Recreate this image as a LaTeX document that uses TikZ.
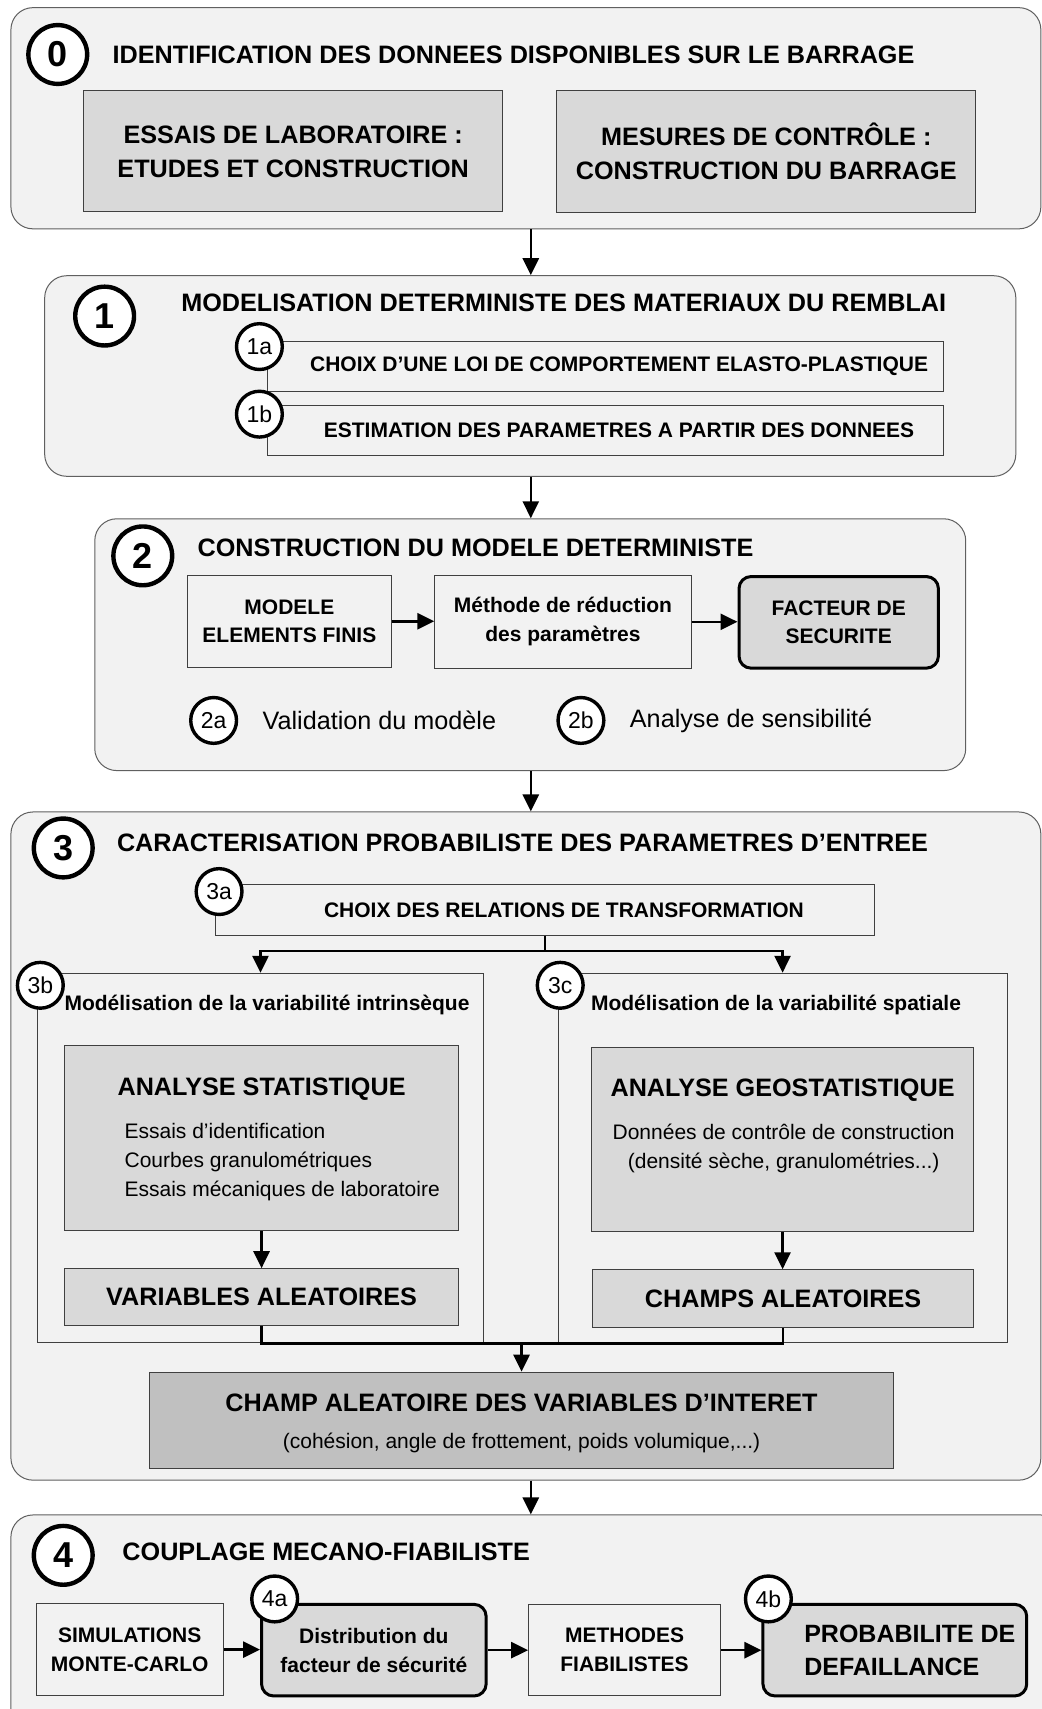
\documentclass[tikz,border=0pt]{standalone}
\usepackage{fontspec}
\setmainfont{Liberation Sans}
\usepackage{tikz}
\usetikzlibrary{
  arrows.meta,
  positioning,
  calc
}
\definecolor{panelcolor}{RGB}{242, 242, 242}
\definecolor{paneldraw}{RGB}{96, 96, 96}
\definecolor{greycolor}{RGB}{217, 217, 217}
\definecolor{darkcolor}{RGB}{192, 192, 192}
\definecolor{boxdraw}{RGB}{64, 64, 64}
\tikzset{
titletext/.style={
  font=\fontsize{12.6}{16.9}\selectfont\bfseries
},
smalltext/.style={
  font=\fontsize{10.5}{14.4}\selectfont\bfseries
},
plaintext/.style={
  font=\fontsize{10.5}{14.4}\selectfont
},
panel/.style={
  draw=paneldraw,
  line width=0.5pt,
  fill=panelcolor,
  rounded corners=11pt,
  inner sep=0pt
},
plainbox/.style={
  draw=boxdraw,
  line width=0.5pt,
  fill=panelcolor,
  inner sep=0pt,
  align=center
},
greybox/.style={
  draw=boxdraw,
  line width=0.5pt,
  fill=greycolor,
  inner sep=0pt,
  align=center
},
darkbox/.style={
  draw=boxdraw,
  line width=0.5pt,
  fill=darkcolor,
  inner sep=0pt
},
resultbox/.style={
  draw=black,
  line width=1.5pt,
  fill=greycolor,
  rounded corners=6pt,
  inner sep=0pt,
  align=center
},
arrow/.style={
  -{Triangle[length=8.5pt,width=8pt]},
  line width=1.3pt,
  draw=black
},
link/.style={
  line width=1.3pt,
  draw=black
}
}

\begin{document}
\begin{tikzpicture}[
    x=0.545pt, y=-0.545pt,
    % cercles des etapes
    stepcircle/.style={
        circle,
        draw=black,
        line width=2.2pt,
        fill=white,
        minimum size=29.4pt,
        inner sep=0pt,
        font=\fontsize{18}{18}\selectfont\bfseries
    },
    substepcircle/.style={
        circle,
        draw=black,
        line width=1.7pt,
        fill=white,
        minimum size=22.9pt,
        inner sep=0pt,
        font=\fontsize{11.5}{11.5}\selectfont
    },
    steptitle/.style={titletext, anchor=west, inner sep=0pt},
    note/.style={font=\fontsize{12.6}{15}\selectfont, inner sep=0pt},
    boxlabel/.style={smalltext, inner sep=0pt}
]
\path[fill=white, use as bounding box] (0,0) rectangle (956,1568);
\coordinate (flow) at (487,0);

% ============================================================================
% Etape 0
% ============================================================================
\node[panel, minimum width=515pt, minimum height=110.6pt] (p0) at (482.5,108.5) {};
\node[stepcircle] (n0) at (53,50) {0};
\node[steptitle] (t0) at (103,50) {IDENTIFICATION DES DONNEES DISPONIBLES SUR LE BARRAGE};

\node[greybox, titletext, minimum width=209.3pt, minimum height=60.5pt] (essais) at (269,139) {ESSAIS DE LABORATOIRE :\\ETUDES ET CONSTRUCTION};
\node[greybox, titletext, minimum width=209.3pt, minimum height=61pt] (mesures) at (703,139) {MESURES DE CONTRÔLE :\\CONSTRUCTION DU BARRAGE};

% ============================================================================
% Etape 1
% ============================================================================
\node[panel, minimum width=485.6pt, minimum height=100.3pt] (p1) at (486.5,345) {};
\node[stepcircle] (n1) at (96,290) {1};
\node[steptitle] (t1) at (166,278) {MODELISATION DETERMINISTE DES MATERIAUX DU REMBLAI};

\node[plainbox, smalltext, minimum width=338.4pt, minimum height=25.1pt] (loi) at (555.5,336) {\hspace*{13.6pt}CHOIX D’UNE LOI DE COMPORTEMENT ELASTO-PLASTIQUE};
\node[plainbox, smalltext, minimum width=338.4pt, minimum height=25.1pt] (estim) at (555.5,395) {\hspace*{13.6pt}ESTIMATION DES PARAMETRES A PARTIR DES DONNEES};
\node[substepcircle] (n1a) at (238,318) {1a};
\node[substepcircle] (n1b) at (238,380) {1b};

% ============================================================================
% Etape 2
% ============================================================================
\node[panel, minimum width=435.5pt, minimum height=125.9pt] (p2) at (486.5,591.5) {};
\node[stepcircle] (n2) at (131,510) {2};
\node[steptitle] (t2) at (181,503) {CONSTRUCTION DU MODELE DETERMINISTE};

\node[plainbox, smalltext, minimum width=101.9pt, minimum height=45.8pt] (mef) at (265.5,570) {MODELE\\ELEMENTS FINIS};
\node[plainbox, smalltext, minimum width=128.1pt, minimum height=46.3pt] (reduc) at (516.5,570.5) {Méthode de réduction\\des paramètres};
\node[resultbox, smalltext, minimum width=99.7pt, minimum height=45.8pt] (fs) at (769.5,571) {FACTEUR DE\\SECURITE};

\draw[arrow] (mef.east) -- (mef.east -| reduc.west);
\draw[arrow] (reduc.east) -- (reduc.east -| fs.west);

\node[substepcircle] (n2a) at (196,661) {2a};
\node[note, right=12pt of n2a] (valid) {Validation du modèle};
\node[substepcircle] (n2b) at (533,661) {2b};
\node[note, right=12pt of n2b] (sensib) {Analyse de sensibilité};

% ============================================================================
% Etape 3
% ============================================================================
\node[panel, minimum width=515pt, minimum height=334.1pt] (p3) at (482.5,1051.5) {};
\node[stepcircle] (n3) at (58,778) {3};
\node[steptitle] (t3) at (107,773) {CARACTERISATION PROBABILISTE DES PARAMETRES D’ENTREE};

\node[plainbox, smalltext, minimum width=329.2pt, minimum height=25.1pt] (transfo) at (500,835) {\hspace*{19pt}CHOIX DES RELATIONS DE TRANSFORMATION};
\node[substepcircle] (n3a) at (201,818) {3a};

% variabilite intrinseque
\node[plainbox, minimum width=223.5pt, minimum height=184.8pt] (intr) at (239,1062.5) {};
\node[boxlabel] (intr_label) at (245,922) {Modélisation de la variabilité intrinsèque};
\node[greybox, minimum width=197.3pt, minimum height=92.7pt] (stat) at (240,1044) {};
\node[titletext, inner sep=0pt] (stat_title) at (240,999) {ANALYSE STATISTIQUE};
\node[plaintext, anchor=west, align=left, inner sep=0pt] (stat_list) at (114,1066) {Essais d’identification\\Courbes granulométriques\\Essais mécaniques de laboratoire};
\node[greybox, titletext, minimum width=197.3pt, minimum height=28.3pt] (vars) at (240,1190) {VARIABLES ALEATOIRES};
\node[substepcircle] (n3b) at (37,904) {3b};

% variabilite spatiale
\node[plainbox, minimum width=224.5pt, minimum height=184.8pt] (spat) at (718,1062.5) {};
\node[boxlabel] (spat_label) at (712,922) {Modélisation de la variabilité spatiale};
\node[greybox, minimum width=190.8pt, minimum height=92.1pt] (geostat) at (718,1045.5) {};
\node[titletext, inner sep=0pt] (geo_title) at (718,1000) {ANALYSE GEOSTATISTIQUE};
\node[plaintext, align=center, inner sep=0pt] (geo_list) at (719,1054) {Données de contrôle de construction\\(densité sèche, granulométries...)};
\node[greybox, titletext, minimum width=190.2pt, minimum height=28.9pt] (champs) at (718.5,1191.5) {CHAMPS ALEATOIRES};
\node[substepcircle] (n3c) at (514,904) {3c};

\node[darkbox, minimum width=372.2pt, minimum height=48pt] (interet) at (478.5,1303) {};
\node[titletext, inner sep=0pt] (interet_title) at (478.5,1287) {CHAMP ALEATOIRE DES VARIABLES D’INTERET};
\node[plaintext, inner sep=0pt] (interet_sub) at (478.5,1324) {(cohésion, angle de frottement, poids volumique,...)};

% liaisons
\draw[link] (transfo.south) -- ++(0,14) coordinate (split3);
\draw[arrow] (split3) -| (intr.north);
\draw[arrow] (split3) -| (spat.north);
\draw[arrow] (stat.south) -- (vars.north);
\draw[arrow] (geostat.south) -- (geostat.south |- champs.north);
\coordinate (merge3) at (interet.north |- intr.south);
\draw[link] (vars.south) |- (merge3) -| (champs.south);
\draw[arrow] (merge3) -- (interet.north);

% ============================================================================
% Etape 4
% ============================================================================
\node[panel, minimum width=525.9pt, minimum height=114.5pt] (p4) at (492.5,1495) {};
\node[stepcircle] (n4) at (58,1427) {4};
\node[steptitle] (t4) at (112,1424) {COUPLAGE MECANO-FIABILISTE};

\node[plainbox, smalltext, minimum width=93.7pt, minimum height=46.3pt] (monte) at (119,1513.5) {SIMULATIONS\\MONTE-CARLO};
\node[resultbox, smalltext, minimum width=112.3pt, minimum height=45.8pt] (distrib) at (343,1514) {Distribution du\\facteur de sécurité};
\node[plainbox, smalltext, minimum width=95.9pt, minimum height=45.8pt] (fiab) at (573,1514) {METHODES\\FIABILISTES};
\node[resultbox, align=left, font=\fontsize{12.5}{16.4}\selectfont\bfseries, minimum width=131.9pt, minimum height=45.8pt] (proba) at (821,1514) {\hspace*{15pt}PROBABILITE DE\\\hspace*{15pt}DEFAILLANCE};
\node[substepcircle] (n4a) at (252,1467) {4a};
\node[substepcircle] (n4b) at (705,1467) {4b};

\draw[arrow] (monte.east) -- (monte.east -| distrib.west);
\draw[arrow] (distrib.east) -- (distrib.east -| fiab.west);
\draw[arrow] (fiab.east) -- (fiab.east -| proba.west);

% ============================================================================
% Enchainement des etapes
% ============================================================================
\draw[arrow] (p0.south -| flow) -- (p1.north -| flow);
\draw[arrow] (p1.south -| flow) -- (p2.north -| flow);
\draw[arrow] (p2.south -| flow) -- (p3.north -| flow);
\draw[arrow] (p3.south -| flow) -- (p4.north -| flow);

\end{tikzpicture}
\end{document}
